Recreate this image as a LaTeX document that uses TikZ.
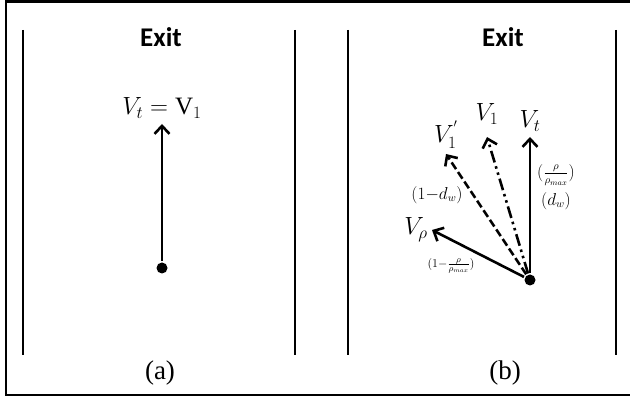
\documentclass[tikz,border=0pt]{standalone}
\usepackage{fontspec}
\usepackage{amsmath}
\setmainfont{Liberation Serif}
\newfontfamily\exitfont{Carlito}
\usetikzlibrary{positioning,arrows.meta}

\begin{document}
\begin{tikzpicture}[x=1pt,y=-1pt,>={Straight Barb[length=8pt,width=15pt]},
    line width=2.6pt,node distance=4pt]
  \tikzstyle{wall}=[line width=2.4pt]
  \tikzstyle{exit}=[font=\exitfont\bfseries\fontsize{27}{30}\selectfont]
  \tikzstyle{subcap}=[font=\fontsize{27}{31}\selectfont]
  \tikzstyle{dot}=[circle,fill,inner sep=0pt,minimum size=11pt]
  \tikzstyle{vec}=[font=\fontsize{25}{29}\selectfont,inner sep=1pt]
  \tikzstyle{coef}=[font=\fontsize{16}{18}\selectfont,inner sep=1pt]
  \useasboundingbox (0,0) rectangle (630,398);
  % frame, open on the right
  \draw[line width=2.8pt] (630,1.4) -- (6,1.4) -- (6,395) -- (630,395);
  % walls
  \draw[wall] (23,30) -- (23,355);
  \draw[wall] (295,30) -- (295,355);
  \draw[wall] (348,30) -- (348,355);
  \draw[wall] (616,30) -- (616,355);
  % (a)
  \node[exit] (exa) at (161,37) {Exit};
  \node[dot] (oa) at (162,268) {};
  \coordinate (ta) at (162,124);
  \draw[->] (oa) -- (ta);
  \node[vec,above=3pt of ta] (lta) {$V_t=\mathrm{V}_1$};
  \node[subcap] (capa) at (160,373) {(a)};
  % (b)
  \node[exit] (exb) at (503,37) {Exit};
  \node[dot] (ob) at (530,280) {};
  \coordinate (tt) at (530,137);
  \coordinate (tone) at (487,137);
  \coordinate (tpr) at (446,154);
  \coordinate (trho) at (432,230);
  \draw[->] (ob) -- (tt);
  \draw[->,dash pattern=on 12pt off 4pt on 2.5pt off 4pt on 2.5pt off 4pt] (ob) -- (tone);
  \draw[->,dash pattern=on 8pt off 3.5pt] (ob) -- (tpr);
  \draw[->] (ob) -- (trho);
  \node[vec,above=3pt of tt] (ltt) {$V_t$};
  \node[vec,above=10pt of tone] (ltone) {$V_1$};
  \node[vec,above=3pt of tpr] (ltpr) {$V_1^{'}$};
  \node[vec,left=2pt of trho] (ltrho) {$V_\rho$};
  \node[coef] (cr) at (556,175) {$(\frac{\rho}{\rho_{max}})$};
  \node[coef,below=2pt of cr] (cd) {$(d_w)$};
  \node[coef] (cdw) at (437,195) {$(1{-}d_w)$};
  \node[coef,font=\fontsize{13}{15}\selectfont] (crr) at (451,266) {$(1{-}\frac{\rho}{\rho_{max}})$};
  \node[subcap] (capb) at (505,373) {(b)};
\end{tikzpicture}
\end{document}
